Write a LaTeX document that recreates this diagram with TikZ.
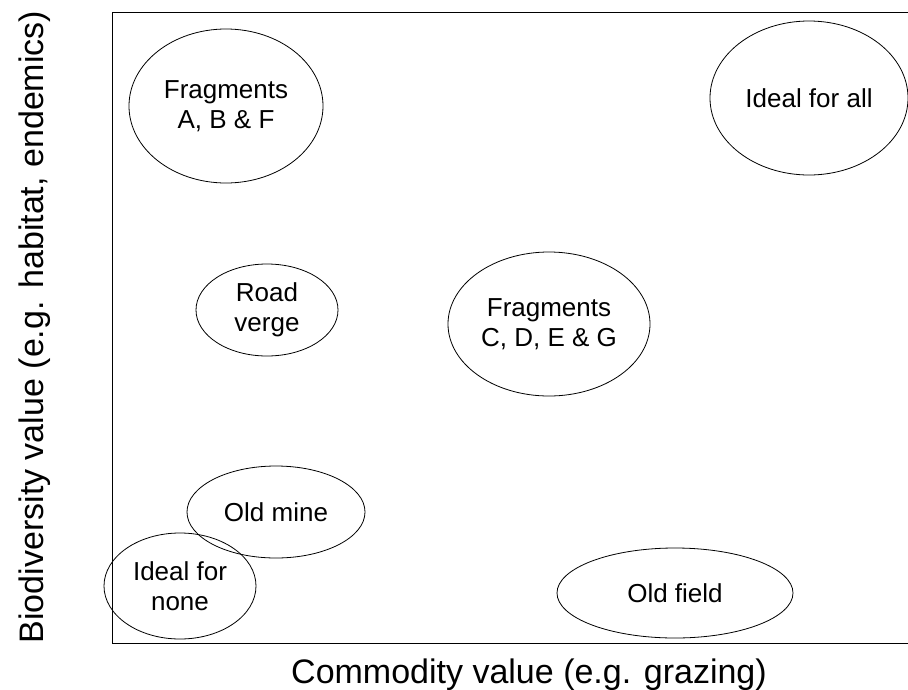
\documentclass[tikz,border=0pt]{standalone}
\usepackage{fontspec}
\setmainfont{Liberation Sans}
\usetikzlibrary{shapes.geometric}
\begin{document}
\begin{tikzpicture}[x=1pt,y=-1pt,
  zone/.style={draw=black,line width=0.8pt,ellipse,inner sep=0pt,align=center,
    font=\fontsize{26}{30}\selectfont},
  axislabel/.style={font=\fontsize{34}{40}\selectfont,inner sep=0pt,anchor=base}]
\useasboundingbox (0,0) rectangle (908,689);
\coordinate (tr) at (908,12);
\coordinate (tl) at (112,12);
\coordinate (bl) at (112,643);
\coordinate (br) at (908,643);
\draw[line width=1pt] (tr) -- (tl) -- (bl) -- (br);
\node[zone,minimum width=194pt,minimum height=154pt] (abf) at (226,106) {Fragments\\A, B \& F};
\node[zone,minimum width=198pt,minimum height=154pt] (all) at (809,98) {Ideal for all};
\node[zone,minimum width=142pt,minimum height=92pt] (road) at (267,310) {Road\\verge};
\node[zone,minimum width=202pt,minimum height=144pt] (cdeg) at (549,324) {Fragments\\C, D, E \& G};
\node[zone,minimum width=178pt,minimum height=92pt] (mine) at (276,512) {Old mine};
\node[zone,minimum width=152pt,minimum height=106pt] (none) at (180,586) {Ideal for\\none};
\node[zone,minimum width=236pt,minimum height=90pt] (field) at (675,593) {Old field};
\node[axislabel] (xl) at (529,683) {Commodity value (e.g. grazing)};
\node[axislabel,rotate=90] (yl) at (43,327) {Biodiversity value (e.g. habitat, endemics)};
\end{tikzpicture}
\end{document}
